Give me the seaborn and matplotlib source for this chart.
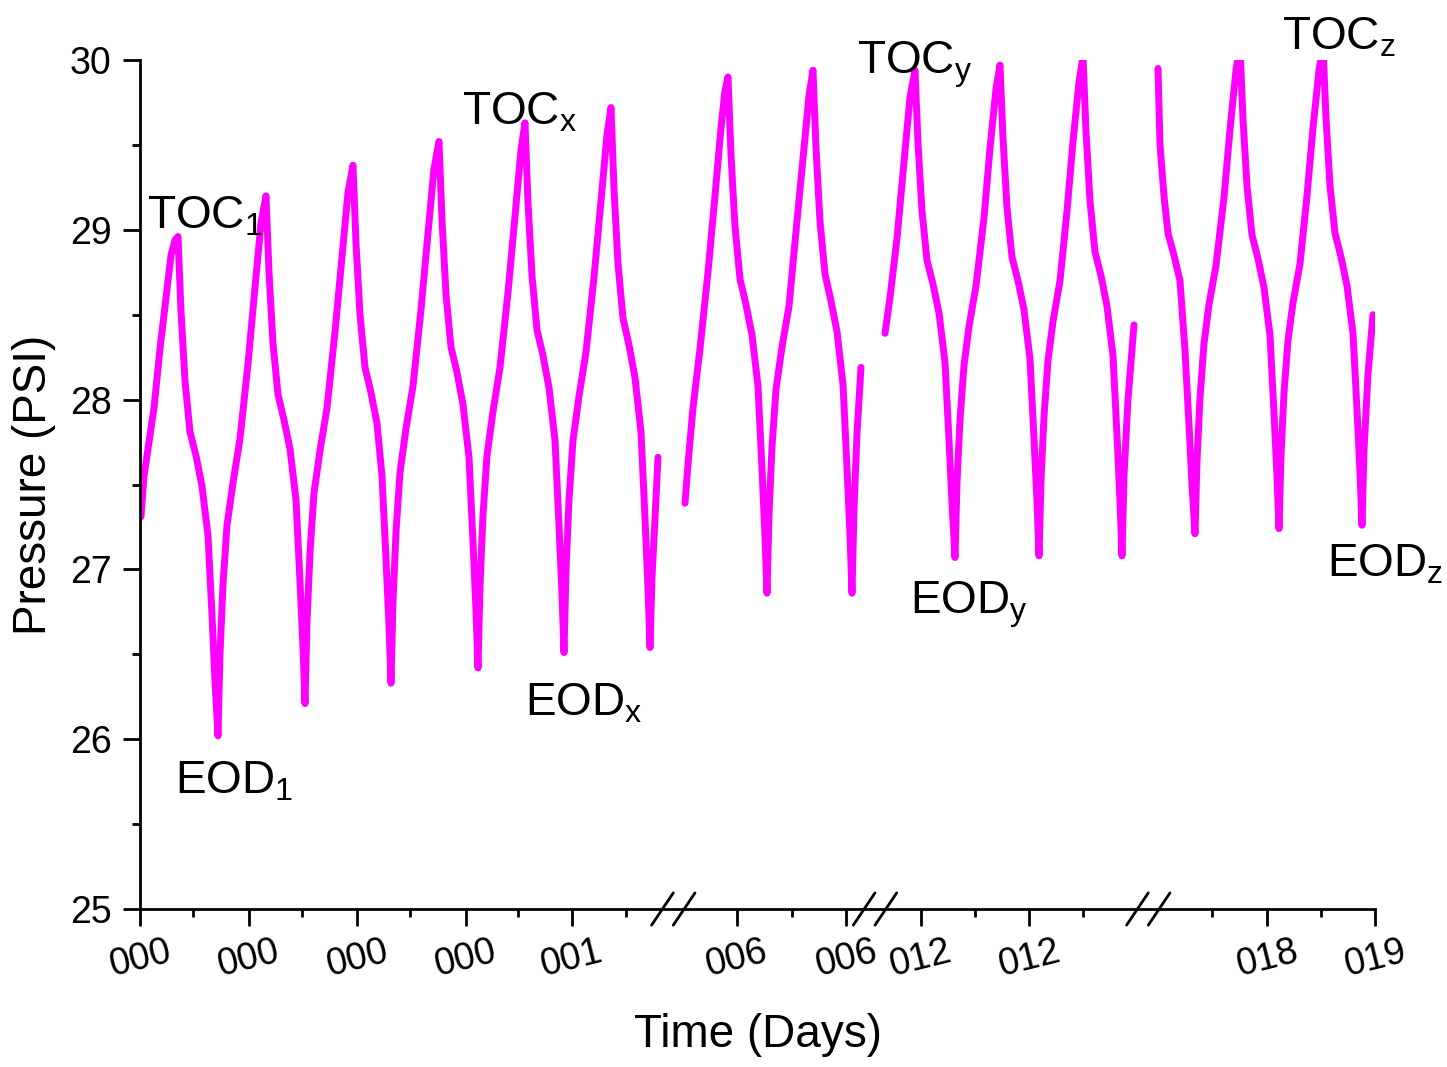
import pandas as pd
import seaborn as sns
import matplotlib.pyplot as plt
from matplotlib.ticker import FixedLocator
import matplotlib.transforms as mtransforms

# time on a compressed axis (three axis breaks), pressure in PSI
seg1_t = [1, 4, 9, 14, 20, 26, 31, 35, 38,
          41, 45, 50, 56, 62, 68, 72, 75, 78,
          80, 83, 87, 93, 100, 108, 115, 121, 126,
          129, 133, 138, 144, 150, 156, 160, 163, 165,
          167, 170, 174, 180, 187, 195, 202, 208, 213,
          216, 220, 225, 231, 237, 242, 246, 249, 251,
          253, 256, 260, 266, 273, 281, 288, 294, 299,
          302, 306, 311, 317, 323, 329, 333, 336, 338,
          340, 343, 347, 353, 360, 368, 375, 381, 385,
          388, 392, 397, 403, 409, 415, 419, 422, 424,
          426, 429, 433, 439, 446, 454, 461, 467, 471,
          474, 478, 483, 489, 495, 501, 505, 508, 510,
          512, 515, 518]
seg1_p = [27.31, 27.55, 27.75, 27.95, 28.30, 28.60, 28.85, 28.94, 28.96,
          28.52, 28.11, 27.81, 27.67, 27.49, 27.20, 26.73, 26.34, 26.02,
          26.50, 26.91, 27.26, 27.51, 27.77, 28.21, 28.66, 29.04, 29.20,
          28.75, 28.33, 28.03, 27.88, 27.71, 27.41, 26.93, 26.54, 26.21,
          26.69, 27.10, 27.45, 27.70, 27.95, 28.40, 28.84, 29.22, 29.38,
          28.92, 28.50, 28.19, 28.04, 27.86, 27.55, 27.06, 26.67, 26.33,
          26.81, 27.22, 27.57, 27.83, 28.08, 28.53, 28.98, 29.36, 29.52,
          29.06, 28.62, 28.31, 28.16, 27.97, 27.66, 27.16, 26.76, 26.42,
          26.90, 27.32, 27.67, 27.93, 28.19, 28.63, 29.08, 29.47, 29.63,
          29.16, 28.73, 28.41, 28.26, 28.07, 27.76, 27.26, 26.85, 26.51,
          26.99, 27.41, 27.76, 28.02, 28.28, 28.72, 29.17, 29.56, 29.72,
          29.24, 28.80, 28.48, 28.32, 28.13, 27.81, 27.30, 26.89, 26.54,
          26.95, 27.30, 27.66]

seg2_t = [545, 548, 553, 560, 568, 575, 581, 585, 588,
          591, 595, 600, 606, 612, 618, 622, 625, 627,
          629, 632, 636, 642, 649, 656, 663, 669, 673,
          676, 680, 685, 691, 697, 703, 707, 710, 712,
          714, 717, 721]
seg2_p = [27.39, 27.62, 27.95, 28.30, 28.75, 29.20, 29.60, 29.82, 29.90,
          29.44, 29.02, 28.71, 28.56, 28.38, 28.08, 27.59, 27.19, 26.86,
          27.32, 27.72, 28.06, 28.31, 28.55, 28.99, 29.42, 29.79, 29.94,
          29.48, 29.05, 28.74, 28.58, 28.40, 28.09, 27.60, 27.20, 26.86,
          27.35, 27.80, 28.19]

seg3_t = [745, 750, 757, 764, 770, 775,
          778, 782, 787, 793, 799, 805, 809, 812, 815,
          817, 820, 824, 829, 836, 844, 850, 856, 860,
          863, 867, 872, 878, 884, 890, 894, 897, 899,
          901, 904, 908, 913, 920, 927, 933, 939, 943,
          946, 950, 955, 961, 967, 973, 977, 980, 982,
          984, 988, 994]
seg3_p = [28.39, 28.60, 28.95, 29.40, 29.78, 29.94,
          29.51, 29.11, 28.82, 28.68, 28.51, 28.22, 27.76, 27.39, 27.07,
          27.51, 27.88, 28.20, 28.43, 28.67, 29.07, 29.48, 29.83, 29.97,
          29.54, 29.13, 28.84, 28.70, 28.53, 28.24, 27.77, 27.40, 27.08,
          27.52, 27.90, 28.23, 28.46, 28.70, 29.11, 29.52, 29.87, 30.02,
          29.58, 29.17, 28.87, 28.73, 28.55, 28.26, 27.79, 27.40, 27.08,
          27.55, 28.00, 28.44]

seg4_t = [1018, 1020, 1024, 1028, 1034, 1040, 1045, 1049, 1052, 1055,
          1057, 1060, 1064, 1069, 1076, 1084, 1090, 1096, 1100,
          1103, 1107, 1112, 1118, 1124, 1130, 1134, 1137, 1139,
          1141, 1144, 1148, 1153, 1160, 1167, 1173, 1179, 1183,
          1186, 1190, 1195, 1201, 1207, 1213, 1217, 1220, 1222,
          1224, 1228, 1233]
seg4_p = [29.95, 29.50, 29.20, 28.98, 28.85, 28.70, 28.29, 27.85, 27.50, 27.21,
          27.64, 28.01, 28.33, 28.56, 28.79, 29.19, 29.59, 29.94, 30.08,
          29.65, 29.26, 28.97, 28.83, 28.66, 28.38, 27.92, 27.55, 27.24,
          27.67, 28.04, 28.35, 28.57, 28.80, 29.20, 29.60, 29.94, 30.08,
          29.66, 29.26, 28.98, 28.84, 28.67, 28.39, 27.94, 27.57, 27.26,
          27.70, 28.15, 28.50]

tick_pos = [0, 108.5, 217, 325.5, 431.7, 596.7, 706, 780.7, 889, 1127, 1235]
tick_labels = ['000', '000', '000', '000', '001', '006', '006', '012', '012', '018', '019']
minor_pos = [53, 161.7, 270, 378, 486, 651.7, 835, 943, 1072, 1181]
break_pos = [533.3, 735, 1008.3]

# annotation labels: (text, t, pressure at baseline)
notes = [(r'$\mathregular{TOC_1}$', 7, 29.01),
         (r'$\mathregular{EOD_1}$', 35, 25.68),
         (r'$\mathregular{TOC_x}$', 322, 29.62),
         (r'$\mathregular{EOD_x}$', 385, 26.14),
         (r'$\mathregular{TOC_y}$', 717, 29.92),
         (r'$\mathregular{EOD_y}$', 770, 26.74),
         (r'$\mathregular{TOC_z}$', 1142, 30.06),
         (r'$\mathregular{EOD_z}$', 1187, 26.96)]

df = pd.concat([
    pd.DataFrame({'t': seg1_t, 'p': seg1_p, 'seg': 1}),
    pd.DataFrame({'t': seg2_t, 'p': seg2_p, 'seg': 2}),
    pd.DataFrame({'t': seg3_t, 'p': seg3_p, 'seg': 3}),
    pd.DataFrame({'t': seg4_t, 'p': seg4_p, 'seg': 4}),
])

sns.set_style('ticks')
plt.rcParams['font.family'] = ['Liberation Sans', 'DejaVu Sans']
plt.rcParams['mathtext.fontset'] = 'custom'
plt.rcParams['mathtext.rm'] = 'Liberation Sans'
for k in ['text.color', 'axes.labelcolor', 'xtick.color', 'ytick.color', 'axes.edgecolor']:
    plt.rcParams[k] = 'black'

fig = plt.figure(figsize=(14.47, 10.67), dpi=100)
ax = fig.add_axes([140 / 1447, 1 - 909 / 1067, 1235 / 1447, 849 / 1067])

sns.lineplot(data=df, x='t', y='p', units='seg', estimator=None, sort=False,
             color='#ff00ff', lw=5, solid_joinstyle='round',
             solid_capstyle='round', ax=ax)

ax.set_xlim(0, 1235)
ax.set_ylim(25, 30)
sns.despine(ax=ax)
for s in ['left', 'bottom']:
    ax.spines[s].set_linewidth(2)

ax.set_xticks(tick_pos)
ax.set_xticklabels(tick_labels, rotation=14, ha='center')
ax.xaxis.set_minor_locator(FixedLocator(minor_pos))
ax.set_yticks([25, 26, 27, 28, 29, 30])
ax.yaxis.set_minor_locator(FixedLocator([25.5, 26.5, 27.5, 28.5, 29.5]))
ax.tick_params(which='major', length=12.5, width=2, direction='out', labelsize=27)
ax.tick_params(which='minor', length=6, width=2, direction='out')
ax.tick_params(axis='x', pad=5)
ax.tick_params(axis='y', pad=8)

ax.set_xlabel('Time (Days)', fontsize=33)
ax.set_ylabel('Pressure (PSI)', fontsize=33)
ax.xaxis.set_label_coords(0.5, -0.122)
ax.yaxis.set_label_coords(-0.068, 0.5)

# axis break marks
trans = mtransforms.blended_transform_factory(ax.transData, ax.transAxes)
for c in break_pos:
    for dx in (-21.7, 0):
        ax.plot([c + dx, c + dx + 21.7], [-0.019, 0.019], color='black', lw=2,
                transform=trans, clip_on=False)

for txt, x, y in notes:
    ax.text(x, y, txt, fontsize=33, ha='left', va='baseline')

fig.savefig('out.png', dpi=100)
